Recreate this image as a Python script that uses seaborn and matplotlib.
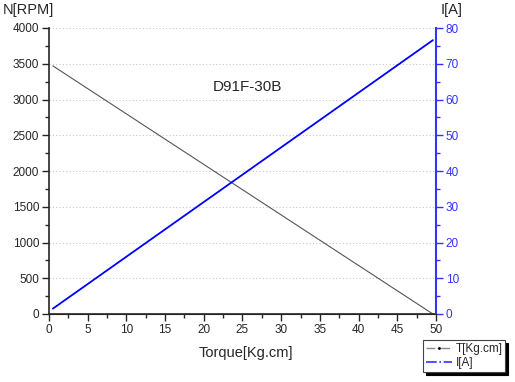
import numpy as np
import pandas as pd
import matplotlib.pyplot as plt
import seaborn as sns
from matplotlib.ticker import MultipleLocator
from matplotlib.lines import Line2D

couple = [0.5, 49.6]
vitesse = [3470, 0]
courant = [1.5, 76.6]
titre = "D91F-30B"

df_n = pd.DataFrame({'couple': couple, 'vitesse': vitesse})
df_i = pd.DataFrame({'couple': couple, 'courant': courant})

sns.set_style("ticks")
plt.rcParams['font.family'] = ['Liberation Sans', 'DejaVu Sans']

fig = plt.figure(figsize=(5.15, 3.82), dpi=100)
ax = fig.add_axes([49 / 515, 1 - 314 / 382, 387 / 515, 286 / 382])
ax2 = ax.twinx()

sns.lineplot(data=df_n, x='couple', y='vitesse', ax=ax, color='#555555', lw=0.8)
sns.lineplot(data=df_i, x='couple', y='courant', ax=ax2, color='#0000ff', lw=1.3)

ax.set_xlim(0, 50)
ax.set_ylim(0, 4000)
ax2.set_ylim(0, 80)
ax.xaxis.set_major_locator(MultipleLocator(5))
ax.xaxis.set_minor_locator(MultipleLocator(2.5))
ax.yaxis.set_major_locator(MultipleLocator(500))
ax.yaxis.set_minor_locator(MultipleLocator(250))
ax2.yaxis.set_major_locator(MultipleLocator(10))
ax2.yaxis.set_minor_locator(MultipleLocator(5))

ax.grid(axis='y', which='major', ls=(0, (1, 2)), color='#c8c8c8', lw=0.8)
ax.tick_params(which='major', length=5, width=1, labelsize=8.5, direction='out', pad=2)
ax.tick_params(which='minor', length=3, width=1, direction='out')
ax2.tick_params(which='major', length=5, width=1, labelsize=8.5, colors='#3333ff', pad=2)
ax2.tick_params(which='minor', length=3, width=1, colors='#3333ff')

for a in (ax, ax2):
    a.spines['top'].set_visible(False)
    a.set_xlabel('')
    a.set_ylabel('')
ax.spines['right'].set_visible(False)
ax2.spines['left'].set_visible(False)
ax2.spines['right'].set_color('#3333ff')
ax2.spines['right'].set_linewidth(1.5)
ax.spines['left'].set_linewidth(1.2)
ax.spines['bottom'].set_linewidth(1.2)

ax.text(25.6, 3170, titre, ha='center', va='center', fontsize=11)
fig.text(3 / 515, 1 - 10 / 382, 'N[RPM]', ha='left', va='center', fontsize=10.5)
fig.text(452 / 515, 1 - 10 / 382, 'I[A]', ha='center', va='center', fontsize=10.5)
fig.text(246 / 515, 1 - 353 / 382, 'Torque[Kg.cm]', ha='center', va='center', fontsize=10.5)

handles = [
    Line2D([], [], color='#888888', ls='-.', lw=1, marker='.', markersize=2,
           markerfacecolor='black', markeredgecolor='black'),
    Line2D([], [], color='#3333ff', ls='-.', lw=1.2),
]
leg = fig.legend(handles, ['T[Kg.cm]', 'I[A]'], loc='lower left',
                 bbox_to_anchor=(423 / 515, 1 - 372 / 382), fontsize=8.5,
                 frameon=True, fancybox=False, shadow={'color': 'black', 'alpha': 1},
                 borderpad=0.25, handlelength=2.2, handletextpad=0.3, labelspacing=0.15,
                 borderaxespad=0)
leg.get_frame().set_edgecolor('#444444')
leg.get_frame().set_linewidth(0.8)

fig.savefig('out.png', dpi=100)
